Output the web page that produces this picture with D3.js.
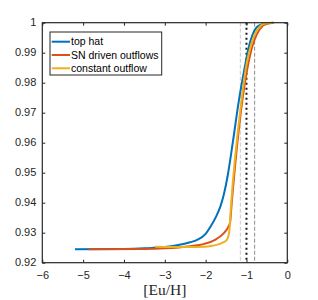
<!DOCTYPE html>
<html>
<head>
<meta charset="utf-8">
<script src="https://cdn.jsdelivr.net/npm/d3@7"></script>
<style>
  body { margin: 0; background: #fff; }
  svg { display: block; }
</style>
</head>
<body>
<div id="chart"></div>
<script>
// series: [Eu/H] values and fractions
const seriesNames = ['top hat', 'SN driven outflows', 'constant outflow'];
const seriesColors = ['#0072BD', '#D95319', '#EDB120'];

const topHatX = [-5.2, -4.0, -3.5, -3.0, -2.7, -2.38, -2.21, -2.0, -1.89, -1.75, -1.64, -1.55, -1.46, -1.33, -1.19, -1.03, -0.95, -0.85, -0.75, -0.6, -0.35];
const topHatY = [0.9245, 0.9246, 0.9248, 0.9252, 0.9258, 0.9268, 0.9276, 0.9296, 0.9318, 0.9352, 0.9387, 0.943, 0.949, 0.9605, 0.9737, 0.986, 0.9915, 0.996, 0.9985, 0.9996, 1.0];

const snX = [-4.86, -3.5, -3.0, -2.38, -2.05, -1.77, -1.56, -1.45, -1.40, -1.36, -1.10, -0.96, -0.87, -0.75, -0.6, -0.5, -0.33];
const snY = [0.9245, 0.9246, 0.9248, 0.9255, 0.9262, 0.9276, 0.9298, 0.9318, 0.9335, 0.940, 0.9742, 0.986, 0.9915, 0.996, 0.999, 0.9996, 1.0];

const constX = [-3.24, -2.5, -2.0, -1.89, -1.60, -1.48, -1.42, -1.38, -1.12, -1.0, -0.91, -0.8, -0.65, -0.55, -0.35];
const constY = [0.9253, 0.9252, 0.9253, 0.9255, 0.9266, 0.9276, 0.9305, 0.9387, 0.9742, 0.986, 0.9915, 0.996, 0.999, 0.9997, 1.0];

const xTicks = [-6, -5, -4, -3, -2, -1, 0];
const yTicks = [0.92, 0.93, 0.94, 0.95, 0.96, 0.97, 0.98, 0.99, 1];
const refLines = [
  { x: -1.15, color: '#c8c8c8', dash: '4,2', width: 1 },
  { x: -1.0, color: '#1a1a1a', dash: '2,3', width: 2 },
  { x: -0.8, color: '#8c8c8c', dash: '4,2', width: 1 }
];

const width = 318, height = 300;
const margin = { top: 22.7, right: 30.7, bottom: 37.3, left: 42.3 };
const innerWidth = width - margin.left - margin.right;
const innerHeight = height - margin.top - margin.bottom;

const root = d3.select('#chart')
  .append('svg')
  .attr('width', width)
  .attr('height', height);
const svg = root.append('g')
  .attr('transform', `translate(${margin.left}, ${margin.top})`);

const x = d3.scaleLinear().domain([-6, 0]).range([0, innerWidth]);
const y = d3.scaleLinear().domain([0.92, 1]).range([innerHeight, 0]);

const tickFont = '"Liberation Sans", Arial, Helvetica, sans-serif';
const axisColor = '#262626';

// reference lines
refLines.forEach(r => {
  svg.append('line')
    .attr('x1', x(r.x)).attr('x2', x(r.x))
    .attr('y1', 0).attr('y2', innerHeight)
    .attr('stroke', r.color)
    .attr('stroke-width', r.width)
    .attr('stroke-dasharray', r.dash);
});

// curves
const data = [
  topHatX.map((d, i) => [d, topHatY[i]]),
  snX.map((d, i) => [d, snY[i]]),
  constX.map((d, i) => [d, constY[i]])
];
const line = d3.line()
  .x(d => x(d[0]))
  .y(d => y(d[1]))
  .curve(d3.curveMonotoneX);

data.forEach((s, i) => {
  svg.append('path')
    .datum(s)
    .attr('fill', 'none')
    .attr('stroke', seriesColors[i])
    .attr('stroke-width', 2)
    .attr('d', line);
});

// axes (ticks inward on all four sides)
function styleAxis(g) {
  g.selectAll('.domain').remove();
  g.selectAll('line').attr('stroke', axisColor);
  g.selectAll('text')
    .attr('fill', axisColor)
    .style('font-family', tickFont)
    .style('font-size', '11px');
}
function dropLabels(g) {
  g.selectAll('text').remove();
}

svg.append('g')
  .attr('transform', `translate(0, ${innerHeight})`)
  .call(d3.axisBottom(x).tickValues(xTicks).tickFormat(d3.format('d')).tickSizeInner(-3).tickSizeOuter(0).tickPadding(9))
  .call(styleAxis);
svg.append('g')
  .call(d3.axisTop(x).tickValues(xTicks).tickSizeInner(-3).tickSizeOuter(0))
  .call(styleAxis)
  .call(dropLabels);
svg.append('g')
  .call(d3.axisLeft(y).tickValues(yTicks).tickSizeInner(-3).tickSizeOuter(0))
  .call(styleAxis)
  .call(dropLabels);
svg.append('g')
  .attr('transform', `translate(${innerWidth}, 0)`)
  .call(d3.axisRight(y).tickValues(yTicks).tickSizeInner(-3).tickSizeOuter(0))
  .call(styleAxis)
  .call(dropLabels);

// y tick labels in page coordinates
const yFormat = d => d === 1 ? '1' : d3.format('.2f')(d);
root.append('g')
  .selectAll('text')
  .data(yTicks)
  .enter()
  .append('text')
  .attr('x', margin.left - 6)
  .attr('y', d => margin.top + y(d))
  .attr('dy', '0.32em')
  .attr('text-anchor', 'end')
  .attr('fill', axisColor)
  .style('font-family', tickFont)
  .style('font-size', '11px')
  .text(yFormat);

svg.append('rect')
  .attr('x', 0).attr('y', 0)
  .attr('width', innerWidth).attr('height', innerHeight)
  .attr('fill', 'none')
  .attr('stroke', axisColor)
  .attr('stroke-width', 1.2);

// x label
svg.append('text')
  .attr('x', innerWidth / 2)
  .attr('y', innerHeight + 32.5)
  .attr('text-anchor', 'middle')
  .attr('fill', axisColor)
  .style('font-family', '"Liberation Serif", "DejaVu Serif", serif')
  .style('font-size', '15.5px')
  .text('[Eu/H]');

// legend
const legend = svg.append('g')
  .attr('transform', `translate(${50 - margin.left}, ${32 - margin.top})`);
legend.append('rect')
  .attr('width', 111.7).attr('height', 43)
  .attr('fill', '#fff')
  .attr('stroke', axisColor)
  .attr('stroke-width', 1);
seriesNames.forEach((name, i) => {
  const ly = 9.7 + i * 13.3;
  legend.append('line')
    .attr('x1', 1.7).attr('x2', 20)
    .attr('y1', ly).attr('y2', ly)
    .attr('stroke', seriesColors[i])
    .attr('stroke-width', 2);
  legend.append('text')
    .attr('x', 21)
    .attr('y', ly)
    .attr('dy', '0.35em')
    .attr('fill', '#000')
    .style('font-family', tickFont)
    .style('font-size', '10.5px')
    .text(name);
});
</script>
</body>
</html>
